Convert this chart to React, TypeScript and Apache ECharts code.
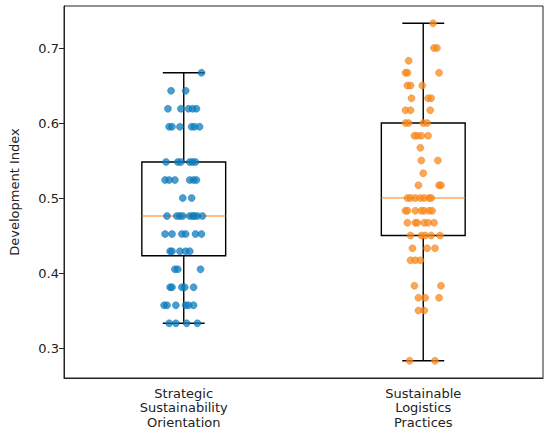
import React, { useEffect, useRef } from "react";
import * as echarts from "echarts";

const categories = ["Strategic\nSustainability\nOrientation", "Sustainable\nLogistics\nPractices"];
const yTicks = [0.3, 0.4, 0.5, 0.6, 0.7];

// box stats: [min, Q1, median, Q3, max]
const boxStats1 = [0.333, 0.423, 0.476, 0.548, 0.667];
const boxStats2 = [0.283, 0.45, 0.5, 0.6, 0.733];

// group 1 points: values and horizontal jitter (axis units)
const values1 = [
  0.667,
  0.643, 0.643,
  0.619, 0.619, 0.619, 0.619, 0.619,
  0.595, 0.595, 0.595, 0.595, 0.595, 0.595,
  0.548, 0.548, 0.548, 0.548, 0.548, 0.548,
  0.524, 0.524, 0.524, 0.524, 0.524, 0.524,
  0.5, 0.5,
  0.476, 0.476, 0.476, 0.476, 0.476, 0.476, 0.476, 0.476, 0.476,
  0.452, 0.452, 0.452, 0.452, 0.452, 0.452,
  0.429, 0.429, 0.429, 0.429, 0.429,
  0.405, 0.405, 0.405,
  0.381, 0.381, 0.381, 0.381, 0.381,
  0.357, 0.357, 0.357, 0.357, 0.357, 0.357,
  0.333, 0.333, 0.333, 0.333,
];
const jitter1 = [
  0.074,
  -0.053, 0.008,
  -0.066, -0.012, 0.02, 0.037, 0.053,
  -0.061, -0.049, -0.016, 0.033, 0.045, 0.066,
  -0.074, -0.025, -0.012, 0.025, 0.037, 0.049,
  -0.078, -0.061, -0.037, 0.025, 0.041, 0.053,
  -0.004, 0.033,
  -0.07, -0.029, -0.016, -0.004, 0.025, 0.037, 0.045, 0.057, 0.078,
  -0.078, -0.049, -0.008, 0.008, 0.049, 0.074,
  -0.057, -0.049, -0.016, 0.008, 0.025,
  -0.037, -0.025, 0.07,
  -0.057, -0.049, -0.008, 0.004, 0.041,
  -0.082, -0.07, -0.033, 0.008, 0.02, 0.041,
  -0.061, -0.033, 0.012, 0.057,
];

// group 2 points
const values2 = [
  0.733,
  0.7, 0.7,
  0.683,
  0.667, 0.667, 0.667,
  0.65, 0.65, 0.65,
  0.633, 0.633, 0.633,
  0.617, 0.617, 0.617,
  0.6, 0.6, 0.6, 0.6,
  0.583, 0.583, 0.583, 0.583,
  0.567,
  0.55, 0.55,
  0.533,
  0.517, 0.517, 0.517,
  0.5, 0.5, 0.5, 0.5, 0.5, 0.5, 0.5,
  0.483, 0.483, 0.483, 0.483, 0.483, 0.483, 0.483,
  0.467, 0.467, 0.467, 0.467, 0.467, 0.467,
  0.45, 0.45, 0.45, 0.45, 0.45,
  0.433, 0.433, 0.433,
  0.417, 0.417, 0.417,
  0.383, 0.383,
  0.367, 0.367, 0.367,
  0.35, 0.35,
  0.283, 0.283,
];
const jitter2 = [
  0.041,
  0.045, 0.057,
  -0.061,
  -0.074, -0.066, 0.066,
  -0.066, -0.053, -0.004,
  -0.049, 0.02, 0.033,
  -0.074, -0.053, 0.029,
  -0.074, -0.061, 0.0, 0.016,
  -0.037, -0.025, -0.008, 0.02,
  -0.012,
  -0.008, 0.061,
  0.0,
  -0.02, 0.066, 0.074,
  -0.066, -0.053, -0.033, -0.012, 0.004, 0.025, 0.033,
  -0.074, -0.066, -0.033, -0.008, 0.004, 0.025, 0.037,
  -0.066, -0.033, -0.025, 0.004, 0.02, 0.045,
  -0.053, -0.008, 0.008, 0.033, 0.07,
  -0.045, 0.016, 0.049,
  -0.053, -0.033, -0.012,
  -0.037, 0.074,
  -0.02, 0.008, 0.066,
  -0.02, 0.004,
  -0.057, 0.049,
];

const BLUE = "#0b7dc0";
const ORANGE = "#f98a1c";

export default function App() {
  const ref = useRef<HTMLDivElement>(null);
  useEffect(() => {
    document.body.style.margin = "0";
    const chart = echarts.init(ref.current!, null, { renderer: "svg" });
    const font = "DejaVu Sans";
    const boxData = [
      [1, ...boxStats1],
      [2, ...boxStats2],
    ];
    const pts1 = values1.map((v, i) => [1 + jitter1[i], v]);
    const pts2 = values2.map((v, i) => [2 + jitter2[i], v]);
    chart.setOption({
      animation: false,
      grid: {
        left: 55,
        right: 7,
        top: 6,
        bottom: 56,
        show: true,
        borderColor: "#222",
        borderWidth: 1,
        backgroundColor: "transparent",
      },
      xAxis: [
        {
          type: "category",
          data: categories,
          boundaryGap: true,
          axisLine: { lineStyle: { color: "#222", width: 1 } },
          axisTick: { alignWithLabel: true, length: 5, lineStyle: { color: "#222" } },
          axisLabel: {
            color: "#222",
            fontFamily: font,
            fontSize: 13,
            lineHeight: 14.5,
            margin: 8,
            interval: 0,
          },
          splitLine: { show: false },
        },
        {
          type: "value",
          min: 0.5,
          max: 2.5,
          show: false,
          splitLine: { show: false },
        },
      ],
      yAxis: {
        type: "value",
        min: 0.26,
        max: 0.756,
        name: "Development Index",
        nameLocation: "middle",
        nameRotate: 90,
        nameGap: 43,
        nameTextStyle: { color: "#222", fontFamily: font, fontSize: 13 },
        axisLine: { show: true, lineStyle: { color: "#222", width: 1 } },
        axisTick: { show: true, length: 5, customValues: yTicks, lineStyle: { color: "#222" } },
        axisLabel: {
          customValues: yTicks,
          color: "#222",
          fontFamily: font,
          fontSize: 13,
          margin: 5,
          formatter: (v: number) => v.toFixed(1),
        },
        splitLine: { show: false },
      },
      series: [
        {
          type: "custom",
          xAxisIndex: 1,
          yAxisIndex: 0,
          z: 2,
          data: boxData,
          renderItem: (params: any, api: any) => {
            const x = api.value(0);
            const mn = api.value(1);
            const q1 = api.value(2);
            const md = api.value(3);
            const q3 = api.value(4);
            const mx = api.value(5);
            const halfBox = 0.175;
            const halfCap = 0.0875;
            const c = (xx: number, yy: number) => api.coord([xx, yy]);
            const pL = c(x - halfBox, q3);
            const pR = c(x + halfBox, q1);
            const black = { stroke: "#000", lineWidth: 1.4, fill: "none" };
            const line = (a: number[], b: number[], style: any) => ({
              type: "line",
              shape: { x1: a[0], y1: a[1], x2: b[0], y2: b[1] },
              style,
            });
            return {
              type: "group",
              children: [
                {
                  type: "rect",
                  shape: { x: pL[0], y: pL[1], width: pR[0] - pL[0], height: pR[1] - pL[1] },
                  style: black,
                },
                line(c(x, q1), c(x, mn), black),
                line(c(x, q3), c(x, mx), black),
                line(c(x - halfCap, mn), c(x + halfCap, mn), black),
                line(c(x - halfCap, mx), c(x + halfCap, mx), black),
                line(c(x - halfBox, md), c(x + halfBox, md), { stroke: "#ff7f0e", lineWidth: 1.2 }),
              ],
            };
          },
        },
        {
          type: "scatter",
          xAxisIndex: 1,
          yAxisIndex: 0,
          z: 3,
          symbolSize: 7,
          data: pts1,
          itemStyle: { color: BLUE, opacity: 0.75, borderColor: "#0a6ea8", borderWidth: 0.6 },
        },
        {
          type: "scatter",
          xAxisIndex: 1,
          yAxisIndex: 0,
          z: 3,
          symbolSize: 7,
          data: pts2,
          itemStyle: { color: ORANGE, opacity: 0.75, borderColor: "#e87a10", borderWidth: 0.6 },
        },
      ],
    });
    return () => chart.dispose();
  }, []);
  return <div ref={ref} style={{ width: 550, height: 434 }} />;
}
